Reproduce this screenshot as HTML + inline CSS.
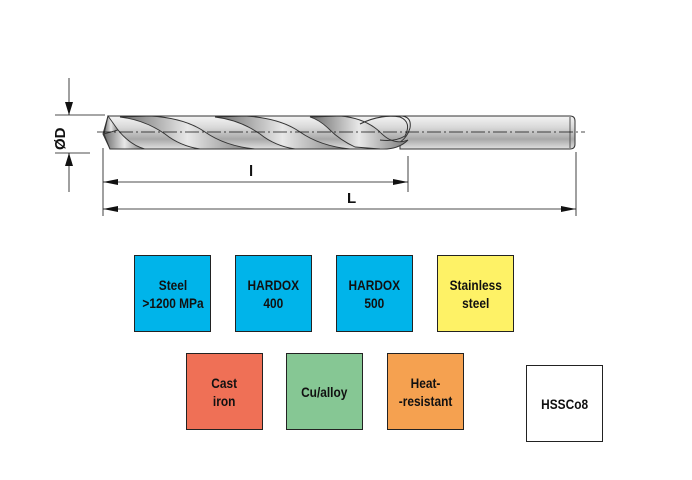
<!DOCTYPE html>
<html><head><meta charset="utf-8"><style>
html,body{margin:0;padding:0;background:#fff;}
.b{position:absolute;width:75px;height:75px;border:1px solid #222;display:flex;align-items:center;justify-content:center;text-align:center;font-family:"Liberation Sans",sans-serif;font-weight:bold;font-size:14px;line-height:18px;color:#111;}
.b span{display:inline-block;transform:scaleX(0.85);white-space:nowrap;}
</style></head><body>
<div style="position:relative;width:692px;height:480px;overflow:hidden">
<svg width="692" height="480" style="position:absolute;left:0;top:0" xmlns="http://www.w3.org/2000/svg">
<defs>
<linearGradient id="g" x1="0" y1="0" x2="0" y2="1">
<stop offset="0" stop-color="#f4f4f4"/><stop offset="0.35" stop-color="#d8d8d8"/><stop offset="0.7" stop-color="#a8a8a8"/><stop offset="1" stop-color="#e0e0e0"/></linearGradient>
<linearGradient id="f" x1="0" y1="0" x2="1" y2="0">
<stop offset="0" stop-color="#6a6a6a"/><stop offset="0.5" stop-color="#e8e8e8"/><stop offset="1" stop-color="#7a7a7a"/></linearGradient>
</defs>
<path d="M400 116 L570 116 Q575 116 575 121 L575 144 Q575 149 570 149 L400 149 Z" fill="url(#g)" stroke="#333" stroke-width="1"/>
<line x1="570" y1="117" x2="570" y2="148" stroke="#555"/>
<path d="M108 116 L400 116 Q412 116 410 128 Q405 146 380 149 L110 149 L103 134 Z" fill="url(#g)" stroke="#333" stroke-width="1"/>
<g fill="url(#f)" stroke="#333" stroke-width="0.9">
<path d="M150 116 Q185 118 205 132 Q225 146 255 149 L200 149 Q180 146 165 134 Q145 120 120 117 Z"/>
<path d="M245 116 Q280 118 300 132 Q320 146 350 149 L295 149 Q275 146 260 134 Q240 120 215 117 Z"/>
<path d="M340 116 Q365 118 380 132 Q393 146 408 140 Q398 150 380 149 L355 147 Q340 140 330 130 Q320 120 310 117 Z"/>
<path d="M108 116 L118 130 L104 134 Z"/>
<path d="M118 130 Q130 145 145 149 L110 149 L104 134 Z"/>
</g>
<path d="M360 124 Q380 114 400 117 Q412 122 405 136 Q395 142 380 140" fill="none" stroke="#333" stroke-width="1"/>
<line x1="97" y1="132" x2="585" y2="132" stroke="#111" stroke-width="0.8" stroke-dasharray="14,3,2,3"/>
<g stroke="#111" stroke-width="0.8">
<line x1="55" y1="115" x2="105" y2="115"/>
<line x1="55" y1="153" x2="90" y2="153"/>
<line x1="69" y1="78" x2="69" y2="115"/>
<line x1="69" y1="153" x2="69" y2="192"/>
<line x1="103" y1="148" x2="103" y2="216"/>
<line x1="408" y1="156" x2="408" y2="192"/>
<line x1="576" y1="152" x2="576" y2="216"/>
<line x1="103" y1="182" x2="408" y2="182"/>
<line x1="103" y1="209" x2="576" y2="209"/>
</g>
<g fill="#111">
<polygon points="69,115 65,102 73,102"/>
<polygon points="69,153 65,166 73,166"/>
<polygon points="103,182 118,179 118,185"/>
<polygon points="408,182 393,179 393,185"/>
<polygon points="103,209 118,206 118,212"/>
<polygon points="576,209 561,206 561,212"/>
</g>
<text x="0" y="0" transform="translate(65,150) rotate(-90)" font-family="Liberation Sans,sans-serif" font-weight="bold" font-size="15" fill="#111">ØD</text>
<text x="249" y="176" font-family="Liberation Sans,sans-serif" font-weight="bold" font-size="15" fill="#111">l</text>
<text x="347" y="203" font-family="Liberation Sans,sans-serif" font-weight="bold" font-size="15" fill="#111">L</text>
</svg>
<div class="b" style="left:134px;top:255px;background:#00b4ea"><span>Steel<br>&gt;1200 MPa</span></div>
<div class="b" style="left:235px;top:255px;background:#00b4ea"><span>HARDOX<br>400</span></div>
<div class="b" style="left:336px;top:255px;background:#00b4ea"><span>HARDOX<br>500</span></div>
<div class="b" style="left:437px;top:255px;background:#fef266"><span>Stainless<br>steel</span></div>
<div class="b" style="left:186px;top:353px;background:#ef7056"><span>Cast<br>iron</span></div>
<div class="b" style="left:286px;top:353px;background:#86c794"><span>Cu/alloy</span></div>
<div class="b" style="left:387px;top:353px;background:#f5a150"><span>Heat-<br>-resistant</span></div>
<div class="b" style="left:526px;top:365px;background:#fff"><span>HSSCo8</span></div>
</div>
</body></html>
